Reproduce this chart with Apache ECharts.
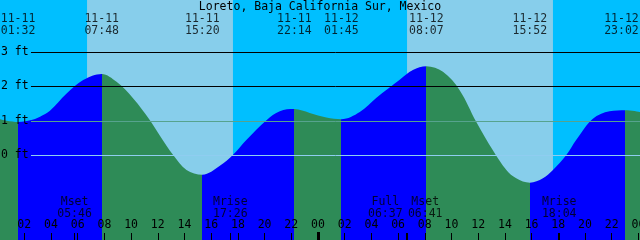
<!DOCTYPE html>
<html><head><meta charset="utf-8">
<script src="https://cdn.jsdelivr.net/npm/echarts@6/dist/echarts.min.js"></script>
<style>html,body{margin:0;padding:0;background:#00BFFF}#c{width:640px;height:240px}</style>
</head><body><div id="c"></div>
<script>
// ---------------- data ----------------
const chartTitle = 'Loreto, Baja California Sur, Mexico';
// hours since 11-11 00:00, tide height in ft
const tideHours = [0.18, 1.533, 2.67, 3.18, 3.92, 5.17, 6.41, 7.8, 8.91, 10.16, 11.41, 12.16, 13.15, 14.15, 15.333,
  16.65, 17.62, 18.65, 20.14, 21.14, 22.233, 23.38, 24.63, 25.75, 27.13, 28.38, 30.12, 31.11, 32.117,
  33.36, 34.61, 35.86, 37.10, 38.11, 38.85, 39.867, 40.85, 41.60, 42.60, 43.35, 44.59, 45.84, 47.033, 48.12];
const tideFeet = [1.05, 0.97, 1.04, 1.12, 1.29, 1.79, 2.18, 2.36, 2.13, 1.65, 1.02, 0.57, 0.01, -0.42, -0.56,
  -0.30, 0.01, 0.45, 1.02, 1.28, 1.34, 1.23, 1.10, 1.05, 1.26, 1.67, 2.19, 2.47, 2.58,
  2.42, 1.89, 0.97, 0.15, -0.42, -0.66, -0.79, -0.66, -0.42, 0.01, 0.45, 1.06, 1.28, 1.31, 1.26];
const eventHours = [1.533, 7.8, 15.333, 22.233, 25.75, 32.117, 39.867, 47.033];
const eventKinds = ['L', 'H', 'L', 'H', 'L', 'H', 'L', 'H'];
const eventDates = ['11-11', '11-11', '11-11', '11-11', '11-12', '11-12', '11-12', '11-12'];
const eventClock = ['01:32', '07:48', '15:20', '22:14', '01:45', '08:07', '15:52', '23:02'];
const sunriseHours = [6.70, 30.67];
const sunsetHours = [17.63, 41.60];
const moonHours = [5.767, 17.433, 30.617, 30.683, 42.067];
const moonNames = ['Mset', 'Mrise', 'Full', 'Mset', 'Mrise'];
const moonClock = ['05:46', '17:26', '06:37', '06:41', '18:04'];
const hourTicks = [0, 2, 4, 6, 8, 10, 12, 14, 16, 18, 20, 22, 24, 26, 28, 30, 32, 34, 36, 38, 40, 42, 44, 46, 48];
const dayBoundaries = [24];
const feetLevels = [0, 1, 2, 3];

// ---------------- styles ----------------
const NIGHT = '#00BFFF', DAY = '#87CEEB', FLOOD = '#0000FF', EBB = '#2E8B57';
const FONT = 'DejaVu Sans Mono', FS = 11.5;
const xMin = 0.18, xMax = 48.12, yMin = -2.45, yMax = 4.5;
const lineStartHour = 2.5;
const topLabelRow = 3.78, moonLabelRow = -1.52;
const eventLabelShift = [0, 0, 0, 0, 0, 0, 0, -4];
const moonLabelShift = [0, 0, -21, 18, 0];
const pad = v => String(v).padStart(2, '0');

const pieces = [];
const last = eventHours.length - 1;
pieces.push({ lt: eventHours[0], color: eventKinds[0] === 'L' ? EBB : FLOOD });
for (let i = 0; i < last; i++) {
  pieces.push({ gte: eventHours[i], lt: eventHours[i + 1], color: eventKinds[i] === 'L' ? FLOOD : EBB });
}
pieces.push({ gte: eventHours[last], color: eventKinds[last] === 'L' ? FLOOD : EBB });

const chart = echarts.init(document.getElementById('c'), null, { renderer: 'canvas' });
chart.setOption({
  animation: false,
  backgroundColor: NIGHT,
  title: { text: chartTitle, left: 'center', top: 0, padding: [1, 0, 0, 0],
    textStyle: { fontFamily: FONT, fontSize: FS, fontWeight: 'normal', color: '#000', lineHeight: 12 } },
  grid: { left: 0, right: 0, top: 0, bottom: 0, containLabel: false, outerBoundsMode: 'none' },
  visualMap: { type: 'piecewise', show: false, dimension: 0, seriesIndex: 2, pieces: pieces },
  xAxis: [{
    type: 'value', min: xMin, max: xMax, position: 'bottom', z: 10,
    axisLine: { show: false, onZero: false }, splitLine: { show: false },
    axisTick: { show: true, inside: true, length: 7, lineStyle: { color: '#000', width: 1 }, customValues: hourTicks.concat(moonHours) },
    axisLabel: { show: true, inside: true, margin: 9, customValues: hourTicks, formatter: v => pad(Math.round(v) % 24),
      fontFamily: FONT, fontSize: FS, color: '#000' }
  }, {
    type: 'value', min: xMin, max: xMax, position: 'bottom', z: 10,
    axisLine: { show: false, onZero: false }, splitLine: { show: false }, axisLabel: { show: false },
    axisTick: { show: true, inside: true, length: 8, lineStyle: { color: '#000', width: 3 }, customValues: dayBoundaries }
  }],
  yAxis: {
    type: 'value', min: yMin, max: yMax, z: 10,
    axisLine: { show: false, onZero: false }, axisTick: { show: false }, splitLine: { show: false },
    axisLabel: { inside: true, margin: 1, customValues: feetLevels, formatter: '{value} ft', fontFamily: FONT, fontSize: FS, color: '#000' }
  },
  series: [{
    type: 'line', data: [], z: 1, silent: true,
    markArea: { silent: true, itemStyle: { color: DAY, opacity: 1 },
      data: sunriseHours.map((s, i) => [{ xAxis: s }, { xAxis: sunsetHours[i] }]) }
  }, {
    type: 'line', data: [], z: 2, silent: true,
    markLine: { silent: true, symbol: 'none', label: { show: false }, lineStyle: { color: '#000', width: 1, type: 'solid' },
      data: [2, 3].map(v => [{ coord: [lineStartHour, v] }, { coord: [xMax, v] }]) }
  }, {
    type: 'line', z: 3, silent: true, smooth: 0.35, symbol: 'none',
    data: tideHours.map((h, i) => [h, tideFeet[i]]),
    lineStyle: { width: 0 }, areaStyle: { opacity: 1, origin: 'start' }
  }, {
    type: 'line', data: [], z: 4, silent: true,
    markLine: { silent: true, symbol: 'none', label: { show: false },
      data: [
        [{ coord: [lineStartHour, 1], lineStyle: { color: '#56A38E', width: 1, type: 'solid' } }, { coord: [xMax, 1] }],
        [{ coord: [lineStartHour, 0], lineStyle: { color: '#8FCDF0', width: 1, type: 'solid' } }, { coord: [xMax, 0] }]
      ] }
  }, {
    type: 'scatter', z: 5, silent: true, symbolSize: 0,
    data: eventHours.map((h, i) => ({ value: [h, topLabelRow], label: { offset: [eventLabelShift[i], 0] } })),
    label: { show: true, position: 'inside', fontFamily: FONT, fontSize: FS, lineHeight: 12, color: '#000',
      formatter: p => eventDates[p.dataIndex] + '\n' + eventClock[p.dataIndex] }
  }, {
    type: 'scatter', z: 5, silent: true, symbolSize: 0,
    data: moonHours.map((h, i) => ({ value: [h, moonLabelRow], label: { offset: [moonLabelShift[i], 0] } })),
    label: { show: true, position: 'inside', fontFamily: FONT, fontSize: FS, lineHeight: 12, color: '#000',
      formatter: p => moonNames[p.dataIndex] + '\n' + moonClock[p.dataIndex] }
  }]
});
</script></body></html>
